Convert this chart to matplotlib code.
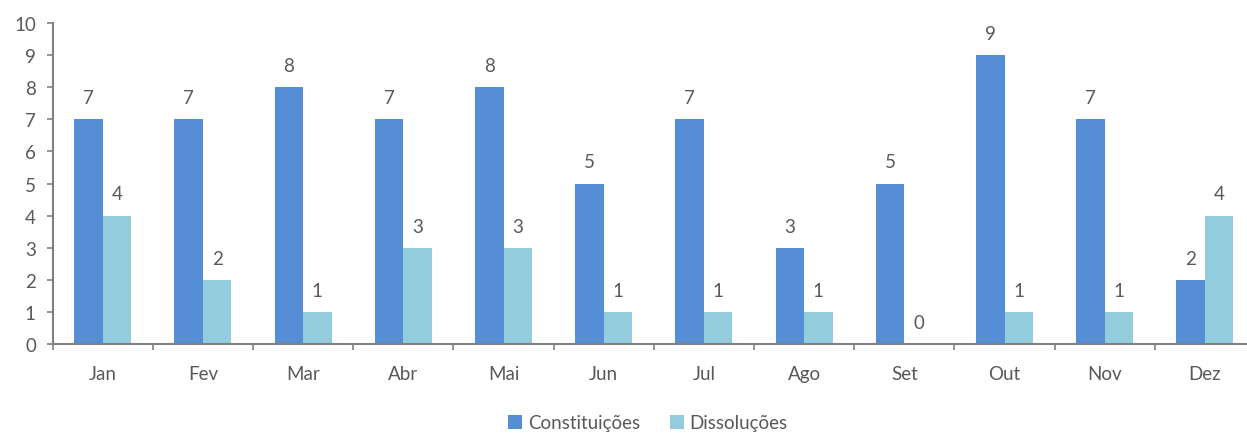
import matplotlib
matplotlib.use("Agg")
from matplotlib import pyplot as plt
import numpy as np

meses = ["Jan", "Fev", "Mar", "Abr", "Mai", "Jun", "Jul", "Ago", "Set", "Out", "Nov", "Dez"]
constituicoes = [7, 7, 8, 7, 8, 5, 7, 3, 5, 9, 7, 2]
dissolucoes = [4, 2, 1, 3, 3, 1, 1, 1, 0, 1, 1, 4]

cor_const = "#558ED5"
cor_diss = "#93CDDD"
cinza = "#595959"
eixo = "#808080"

plt.rcParams["font.family"] = ["Lato", "DejaVu Sans"]
fs = 13.5

W, H = 1247, 435
fig = plt.figure(figsize=(W / 100, H / 100), dpi=100)
# axes run slightly past the right edge like the original
ax = fig.add_axes([52.6 / W, (H - 345) / H, 1202.4 / W, (345 - 24) / H])

x = np.arange(len(meses))
w = 0.285
b1 = ax.bar(x - w / 2, constituicoes, w, color=cor_const, label="Constituições")
b2 = ax.bar(x + w / 2, dissolucoes, w, color=cor_diss, label="Dissoluções")

for bars, vals in [(b1, constituicoes), (b2, dissolucoes)]:
    for r, v in zip(bars, vals):
        ax.annotate(str(v), (r.get_x() + r.get_width() / 2, v),
                    xytext=(0, 9.5), textcoords="offset points",
                    ha="center", va="bottom", fontsize=fs, color=cinza)

ax.set_xlim(-0.5, len(meses) - 0.5)
ax.set_ylim(0, 10)
ax.set_yticks(range(0, 11))
ax.set_xticks(x)
ax.set_xticklabels(meses)
ax.set_xticks(np.arange(-0.5, len(meses), 1), minor=True)

for s in ["top", "right"]:
    ax.spines[s].set_visible(False)
ax.spines["left"].set_color(eixo)
ax.spines["bottom"].set_color(eixo)
ax.spines["left"].set_linewidth(1.5)
ax.spines["bottom"].set_linewidth(1.5)

ax.tick_params(axis="y", colors=eixo, labelcolor=cinza, labelsize=fs,
               length=4, width=1.2, pad=8)
ax.tick_params(axis="x", which="major", length=0, labelcolor=cinza,
               labelsize=fs, pad=15)
ax.tick_params(axis="x", which="minor", length=4, width=1.2, colors=eixo)

leg = fig.legend(handles=[b1, b2], loc="center", bbox_to_anchor=(648 / W, 1 - 424 / H),
                 ncol=2, frameon=False, fontsize=fs, handlelength=0.75,
                 handleheight=0.75, handletextpad=0.3, columnspacing=1.6)
for t in leg.get_texts():
    t.set_color(cinza)

fig.savefig("out.png", dpi=100)
